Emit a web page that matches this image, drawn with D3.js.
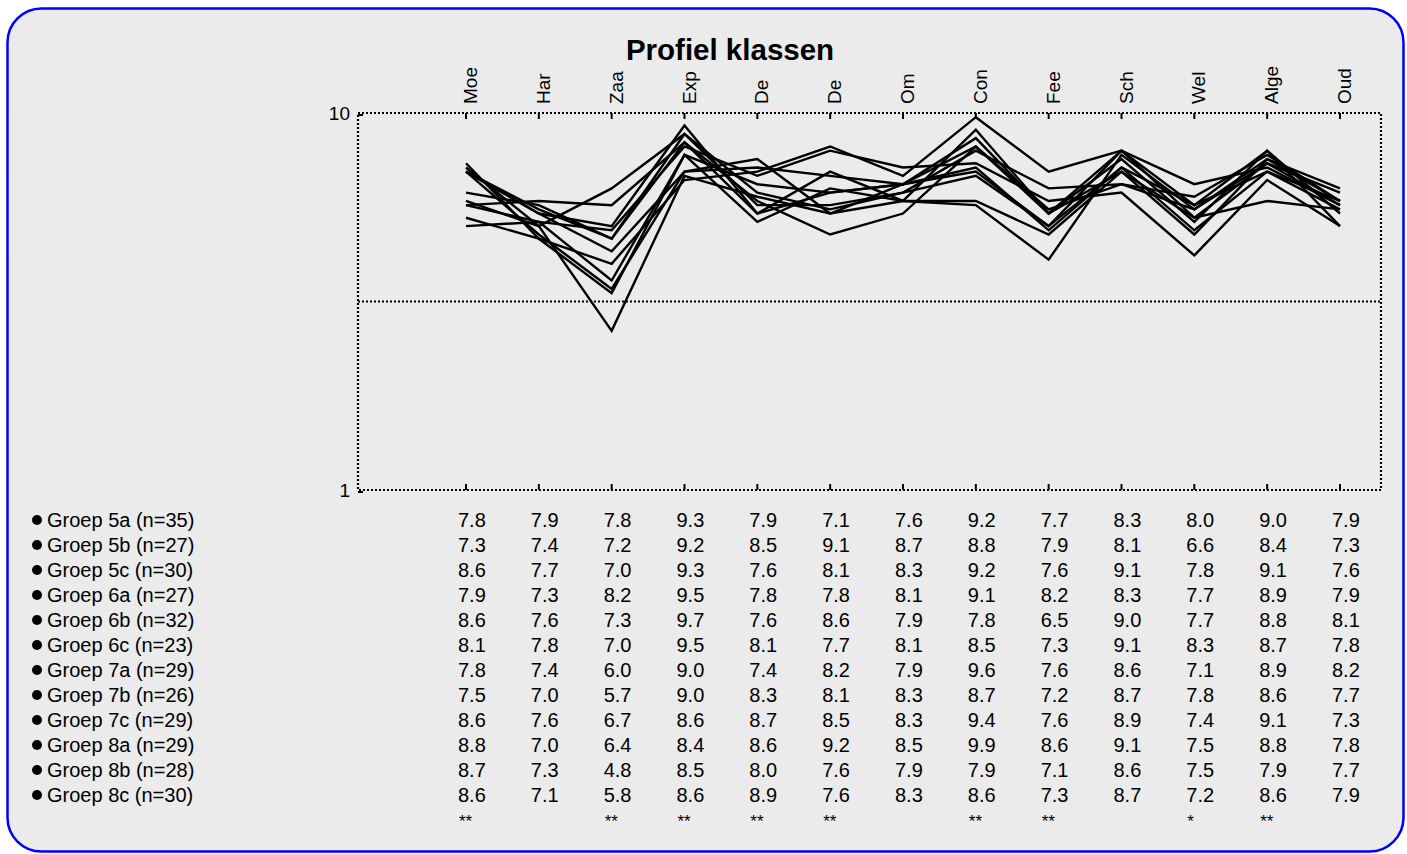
<!DOCTYPE html>
<html>
<head>
<meta charset="utf-8">
<script src="https://cdn.jsdelivr.net/npm/d3@7"></script>
<style>
  html, body { margin: 0; padding: 0; background: #ffffff; }
  svg { display: block; font-family: "Liberation Sans", Arial, sans-serif; }
</style>
</head>
<body>
<div id="chart"></div>
<script>
// categories (column headers)
const categories = ['Moe', 'Har', 'Zaa', 'Exp', 'De', 'De', 'Om', 'Con', 'Fee', 'Sch', 'Wel', 'Alge', 'Oud'];

// groups
const groups = ['Groep 5a (n=35)', 'Groep 5b (n=27)', 'Groep 5c (n=30)', 'Groep 6a (n=27)',
    'Groep 6b (n=32)', 'Groep 6c (n=23)', 'Groep 7a (n=29)', 'Groep 7b (n=26)',
    'Groep 7c (n=29)', 'Groep 8a (n=29)', 'Groep 8b (n=28)', 'Groep 8c (n=30)'];

// mean scores per group
const groep5a = [7.8, 7.9, 7.8, 9.3, 7.9, 7.1, 7.6, 9.2, 7.7, 8.3, 8.0, 9.0, 7.9];
const groep5b = [7.3, 7.4, 7.2, 9.2, 8.5, 9.1, 8.7, 8.8, 7.9, 8.1, 6.6, 8.4, 7.3];
const groep5c = [8.6, 7.7, 7.0, 9.3, 7.6, 8.1, 8.3, 9.2, 7.6, 9.1, 7.8, 9.1, 7.6];
const groep6a = [7.9, 7.3, 8.2, 9.5, 7.8, 7.8, 8.1, 9.1, 8.2, 8.3, 7.7, 8.9, 7.9];
const groep6b = [8.6, 7.6, 7.3, 9.7, 7.6, 8.6, 7.9, 7.8, 6.5, 9.0, 7.7, 8.8, 8.1];
const groep6c = [8.1, 7.8, 7.0, 9.5, 8.1, 7.7, 8.1, 8.5, 7.3, 9.1, 8.3, 8.7, 7.8];
const groep7a = [7.8, 7.4, 6.0, 9.0, 7.4, 8.2, 7.9, 9.6, 7.6, 8.6, 7.1, 8.9, 8.2];
const groep7b = [7.5, 7.0, 5.7, 9.0, 8.3, 8.1, 8.3, 8.7, 7.2, 8.7, 7.8, 8.6, 7.7];
const groep7c = [8.6, 7.6, 6.7, 8.6, 8.7, 8.5, 8.3, 9.4, 7.6, 8.9, 7.4, 9.1, 7.3];
const groep8a = [8.8, 7.0, 6.4, 8.4, 8.6, 9.2, 8.5, 9.9, 8.6, 9.1, 7.5, 8.8, 7.8];
const groep8b = [8.7, 7.3, 4.8, 8.5, 8.0, 7.6, 7.9, 7.9, 7.1, 8.6, 7.5, 7.9, 7.7];
const groep8c = [8.6, 7.1, 5.8, 8.6, 8.9, 7.6, 8.3, 8.6, 7.3, 8.7, 7.2, 8.6, 7.9];

// significance markers under the table
const significance = ['**', '', '**', '**', '**', '**', '', '**', '**', '', '*', '**', ''];

// y axis tick labels
const yTicks = [1, 10];

const series = [groep5a, groep5b, groep5c, groep6a, groep6b, groep6c,
    groep7a, groep7b, groep7c, groep8a, groep8b, groep8c];

const W = 1407, H = 854;

// plot frame
const plot = {left: 358, right: 1381, top: 113, bottom: 490};

const svg = d3.select('#chart').append('svg')
    .attr('width', W)
    .attr('height', H);

// rounded panel
svg.append('rect')
    .attr('x', 7.5)
    .attr('y', 8.5)
    .attr('width', 1396)
    .attr('height', 843)
    .attr('rx', 34)
    .attr('ry', 34)
    .style('fill', '#ebebeb')
    .style('stroke', '#0000ff')
    .style('stroke-width', 2.5);

// scales
const x = d3.scalePoint().domain(d3.range(categories.length)).range([466, 1340]);
const y = d3.scaleLinear().domain([1, 10]).range([plot.bottom, plot.top]);

// title
svg.append('text')
    .attr('x', 730)
    .attr('y', 60)
    .attr('text-anchor', 'middle')
    .style('font-size', '29.5px')
    .style('font-weight', 'bold')
    .text('Profiel klassen');

// dotted frame
svg.append('rect')
    .attr('x', plot.left)
    .attr('y', plot.top)
    .attr('width', plot.right - plot.left)
    .attr('height', plot.bottom - plot.top)
    .style('fill', 'none')
    .style('stroke', '#000')
    .style('stroke-width', 2.2)
    .style('stroke-dasharray', '2,2');

// dotted middle line
svg.append('line')
    .attr('x1', plot.left)
    .attr('x2', plot.right)
    .attr('y1', y(5.5))
    .attr('y2', y(5.5))
    .style('stroke', '#000')
    .style('stroke-width', 2.2)
    .style('stroke-dasharray', '2,2');

// category ticks top and bottom
const ticks = svg.append('g');
ticks.selectAll('line.top')
    .data(d3.range(categories.length))
    .enter().append('line')
    .attr('x1', d => x(d)).attr('x2', d => x(d))
    .attr('y1', plot.top).attr('y2', plot.top + 6)
    .style('stroke', '#000').style('stroke-width', 2);
ticks.selectAll('line.bottom')
    .data(d3.range(categories.length))
    .enter().append('line')
    .attr('x1', d => x(d)).attr('x2', d => x(d))
    .attr('y1', plot.bottom).attr('y2', plot.bottom - 6)
    .style('stroke', '#000').style('stroke-width', 2);

// category labels (rotated)
svg.selectAll('text.cat')
    .data(categories)
    .enter().append('text')
    .attr('class', 'cat')
    .attr('transform', (d, i) => 'translate(' + x(i) + ',104) rotate(-90)')
    .attr('y', 11)
    .attr('text-anchor', 'start')
    .style('font-size', '19px')
    .text(d => d);

// y axis ticks + labels
svg.selectAll('line.ytick')
    .data(yTicks)
    .enter().append('line')
    .attr('x1', plot.left).attr('x2', plot.left + 5)
    .attr('y1', d => y(d) + 2).attr('y2', d => y(d) + 2)
    .style('stroke', '#000').style('stroke-width', 2);
svg.selectAll('text.ylab')
    .data(yTicks)
    .enter().append('text')
    .attr('x', 350)
    .attr('y', d => y(d))
    .attr('dy', '0.35em')
    .attr('text-anchor', 'end')
    .style('font-size', '19px')
    .text(d => d);

// profile lines
const line = d3.line()
    .x((d, i) => x(i))
    .y(d => y(d));

svg.append('g').selectAll('path')
    .data(series)
    .enter().append('path')
    .attr('d', line)
    .style('fill', 'none')
    .style('stroke', '#000')
    .style('stroke-width', 2.4)
    .style('stroke-linejoin', 'miter');

// table below
const rowY = i => 527 + i * 25;

const rows = svg.append('g').selectAll('g')
    .data(series)
    .enter().append('g');

rows.append('circle')
    .attr('cx', 37)
    .attr('cy', (d, i) => rowY(i) - 7)
    .attr('r', 5)
    .style('fill', '#000');

rows.append('text')
    .attr('x', 47)
    .attr('y', (d, i) => rowY(i))
    .style('font-size', '20px')
    .text((d, i) => groups[i]);

rows.each(function (vals, r) {
    d3.select(this).selectAll('text.val')
        .data(vals)
        .enter().append('text')
        .attr('class', 'val')
        .attr('x', (d, i) => x(i) - 8)
        .attr('y', rowY(r))
        .style('font-size', '20px')
        .text(d => d.toFixed(1));
});

svg.selectAll('text.sig')
    .data(significance)
    .enter().append('text')
    .attr('class', 'sig')
    .attr('x', (d, i) => x(i) - 7)
    .attr('y', rowY(series.length))
    .style('font-size', '17px')
    .text(d => d);
</script>
</body>
</html>
